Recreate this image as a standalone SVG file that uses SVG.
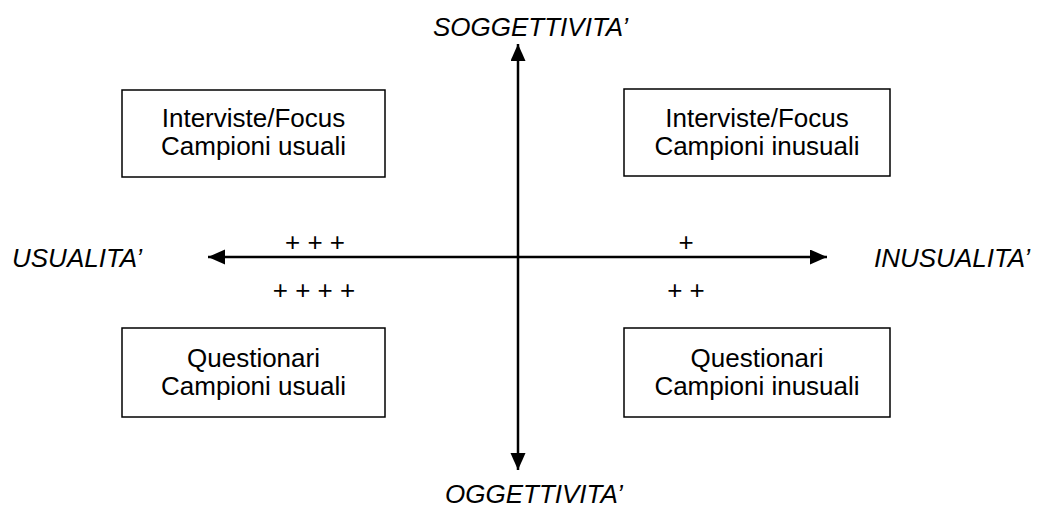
<svg xmlns="http://www.w3.org/2000/svg" width="1040" height="509" viewBox="0 0 1040 509">
  <style>
    .box { fill: #ffffff; stroke: #000000; stroke-width: 1.5; }
    .t { font-family: "Liberation Sans", Arial, sans-serif; font-size: 26px; fill: #000000; text-anchor: middle; }
    .ax { font-family: "Liberation Sans", Arial, sans-serif; font-size: 26px; font-style: italic; fill: #000000; }
    .axis { stroke: #000000; stroke-width: 2.5; fill: none; }
  </style>
  <defs>
    <marker id="arrow" markerUnits="userSpaceOnUse" markerWidth="18" markerHeight="16" refX="17" refY="7.5" orient="auto">
      <path d="M0,0 L17,7.5 L0,15 Z" fill="#000000"/>
    </marker>
  </defs>
  <rect width="1040" height="509" fill="#ffffff"/>

  <g id="connectors">
    <line class="axis" x1="518" y1="257" x2="208" y2="257" marker-end="url(#arrow)"/>
    <line class="axis" x1="518" y1="257" x2="827" y2="257" marker-end="url(#arrow)"/>
    <line class="axis" x1="518" y1="257" x2="518" y2="44" marker-end="url(#arrow)"/>
    <line class="axis" x1="518" y1="257" x2="518" y2="470" marker-end="url(#arrow)"/>
  </g>

  <g id="axis-labels">
    <text class="ax" x="433" y="36">SOGGETTIVITA’</text>
    <text class="ax" x="445" y="503">OGGETTIVITA’</text>
    <text class="ax" x="12" y="267">USUALITA’</text>
    <text class="ax" x="874" y="267">INUSUALITA’</text>
  </g>

  <g id="marks">
    <text class="t" x="315" y="251">+ + +</text>
    <text class="t" x="314" y="299">+ + + +</text>
    <text class="t" x="686" y="251">+</text>
    <text class="t" x="686" y="299">+ +</text>
  </g>

  <g id="node-tl">
    <rect class="box" x="122" y="90" width="263" height="87"/>
    <text class="t" x="253.5" y="127">Interviste/Focus</text>
    <text class="t" x="253.5" y="155">Campioni usuali</text>
  </g>
  <g id="node-tr">
    <rect class="box" x="624" y="89" width="266" height="87"/>
    <text class="t" x="757" y="127">Interviste/Focus</text>
    <text class="t" x="757" y="155">Campioni inusuali</text>
  </g>
  <g id="node-bl">
    <rect class="box" x="122" y="328" width="263" height="89"/>
    <text class="t" x="253.5" y="367">Questionari</text>
    <text class="t" x="253.5" y="395">Campioni usuali</text>
  </g>
  <g id="node-br">
    <rect class="box" x="624" y="328" width="266" height="89"/>
    <text class="t" x="757" y="367">Questionari</text>
    <text class="t" x="757" y="395">Campioni inusuali</text>
  </g>
</svg>
